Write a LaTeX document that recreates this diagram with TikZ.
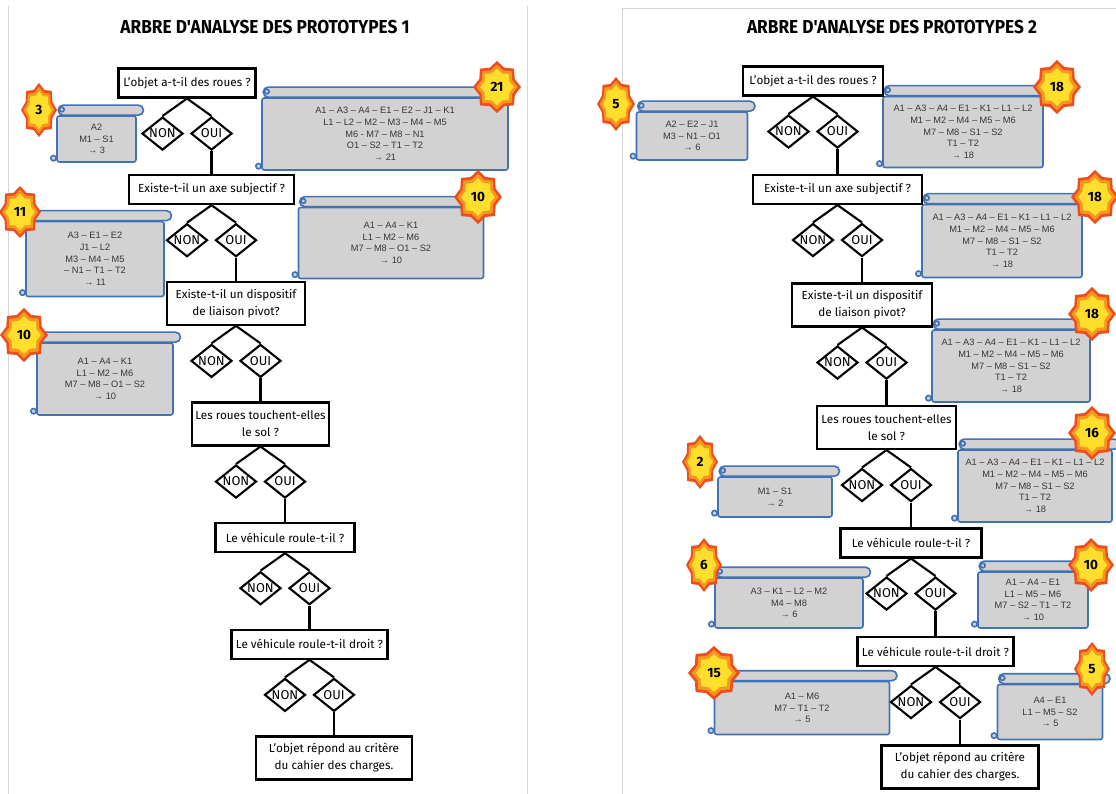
\documentclass[tikz,border=0pt]{standalone}
\usepackage{fontspec}
\usepackage{xcolor}
\usepackage{tikz}
\usetikzlibrary{shapes.geometric, positioning}
\setmainfont{Fira Sans}
\newfontfamily\scrollfont{Liberation Sans}
\newfontfamily\titlefont[FakeStretch=0.92]{Fira Sans}

\definecolor{scrollgray}{RGB}{210,210,210}
\definecolor{scrollblue}{RGB}{66,114,182}
\definecolor{scrolltext}{RGB}{55,55,55}
\definecolor{badgered}{RGB}{236,78,32}
\definecolor{badgeorange}{RGB}{249,150,32}
\definecolor{badgeyellow}{RGB}{255,222,44}
\definecolor{pageline}{RGB}{214,214,214}

\tikzset{
  title/.style={font=\titlefont\bfseries\fontsize{16}{18}\selectfont},
  qbox/.style={rectangle, draw=black, line width=1.8pt, fill=white, align=center, minimum height=0.87cm, inner sep=2pt, font=\fontsize{10}{14.5}\selectfont},
  qbox2/.style={qbox, minimum height=1.29cm},
  yn/.style={diamond, aspect=1.25, draw=black, line width=1.8pt, fill=white, inner sep=0pt, minimum width=1.23cm, minimum height=0.99cm, font=\fontsize{11}{12}\selectfont},
  scroll/.style={rectangle, draw=scrollblue, line width=1.4pt, fill=scrollgray, rounded corners=2pt, align=center, text=scrolltext, font=\scrollfont\fontsize{7.9}{10}\selectfont},
  scrollline/.style={draw=scrollblue, line width=1.4pt, fill=scrollgray},
  badgetxt/.style={font=\bfseries\fontsize{11.5}{12}\selectfont, inner sep=0pt},
  link/.style={line width=1.8pt},
  pageline/.style={draw=pageline, line width=0.6pt}
}

% roll on top and curl at the bottom of a scroll node
\newcommand{\scrolltop}[1]{%
  \draw[scrollline, rounded corners=0.15cm] ([xshift=0.06cm]#1.north west) rectangle ([xshift=0.2cm,yshift=0.3cm]#1.north east);
  \draw[scrollline] ([xshift=0.17cm,yshift=0.17cm]#1.north west) circle (0.07cm);
  \draw[scrollline] ([xshift=-0.08cm,yshift=0.14cm]#1.south west) circle (0.08cm);
}

% 8 point star: colour, x, y, rx, ry, scale
\newcommand{\starfill}[6]{%
  \fill[#1] plot[samples at={0,22.5,...,337.5}] ({#2+#6*#4*(1-0.2*mod(round(\x/22.5),2))*cos(\x)},{#3+#6*#5*(1-0.2*mod(round(\x/22.5),2))*sin(\x)}) -- cycle;
}
\newcommand{\badge}[6]{%
  \starfill{badgered}{#2}{#3}{#4}{#5}{1}
  \starfill{badgeorange}{#2}{#3}{#4}{#5}{0.86}
  \starfill{badgeyellow}{#2}{#3}{#4}{#5}{0.7}
  \node (#1) [badgetxt] at (#2,#3) {#6};
}

\begin{document}
\begin{tikzpicture}[x=0.03cm, y=-0.03cm]
\useasboundingbox (0,0) rectangle (1116,794);

\draw[pageline] (8,6) -- (8,794);
\draw[pageline] (527,6) -- (527,794);
\draw[pageline] (622,794) -- (622,8) -- (1116,8);

%% prototypes 1
\node (ta) [title] at (265,27) {ARBRE D'ANALYSE DES PROTOTYPES 1};

\node (sa1) [scroll, minimum width=2.37cm, minimum height=1.38cm] at (96.5,139) {A2\\M1 – S1\\→ 3};
\node (sa2) [scroll, minimum width=7.38cm, minimum height=2.16cm] at (385,134) {A1 – A3 – A4 – E1 – E2 – J1 – K1\\L1 – L2 – M2 – M3 – M4 – M5\\M6 - M7 – M8 – N1\\O1 – S2 – T1 – T2\\→ 21};
\node (sa3) [scroll, minimum width=4.14cm, minimum height=2.25cm] at (95,259) {A3 – E1 – E2\\J1 – L2\\M3 – M4 – M5\\– N1 – T1 – T2\\→ 11};
\node (sa4) [scroll, minimum width=5.55cm, minimum height=2.13cm] at (391,243) {A1 – A4 – K1\\L1 – M2 – M6\\M7 – M8 – O1 – S2\\→ 10};
\node (sa5) [scroll, minimum width=4.08cm, minimum height=2.16cm] at (105,379) {A1 – A4 – K1\\L1 – M2 – M6\\M7 – M8 – O1 – S2\\→ 10};
\scrolltop{sa1}
\scrolltop{sa2}
\scrolltop{sa3}
\scrolltop{sa4}
\scrolltop{sa5}

\badge{ba1}{39}{110}{18}{27}{3}
\badge{ba2}{497}{87}{24}{26}{21}
\badge{ba3}{20}{212}{21}{26}{11}
\badge{ba4}{478}{197}{24}{27}{10}
\badge{ba5}{24}{335}{24}{27}{10}

\node (qa1) [qbox, minimum width=4.11cm] at (187,83) {L'objet a-t-il des roues ?};
\node (na1) [yn] at ([shift={(-24.5,35)}]qa1.south) {NON};
\node (oa1) [yn] at ([shift={(24.5,35)}]qa1.south) {OUI};

\node (qa2) [qbox, minimum width=4.95cm, below=0.69cm of oa1] {Existe-t-il un axe subjectif ?};
\node (na2) [yn] at ([shift={(-24.5,35)}]qa2.south) {NON};
\node (oa2) [yn] at ([shift={(24.5,35)}]qa2.south) {OUI};

\node (qa3) [qbox2, minimum width=4.14cm, below=0.69cm of oa2] {Existe-t-il un dispositif\\de liaison pivot?};
\node (na3) [yn] at ([shift={(-24.5,35)}]qa3.south) {NON};
\node (oa3) [yn] at ([shift={(24.5,35)}]qa3.south) {OUI};

\node (qa4) [qbox2, minimum width=4.11cm, below=0.69cm of oa3] {Les roues touchent-elles\\le sol ?};
\node (na4) [yn] at ([shift={(-24.5,35)}]qa4.south) {NON};
\node (oa4) [yn] at ([shift={(24.5,35)}]qa4.south) {OUI};

\node (qa5) [qbox, minimum width=4.17cm, below=0.69cm of oa4] {Le véhicule roule-t-il ?};
\node (na5) [yn] at ([shift={(-24.5,35)}]qa5.south) {NON};
\node (oa5) [yn] at ([shift={(24.5,35)}]qa5.south) {OUI};

\node (qa6) [qbox, minimum width=4.68cm, below=0.69cm of oa5] {Le véhicule roule-t-il droit ?};
\node (na6) [yn] at ([shift={(-24.5,35)}]qa6.south) {NON};
\node (oa6) [yn] at ([shift={(24.5,35)}]qa6.south) {OUI};

\node (qa7) [qbox2, minimum width=4.68cm, below=0.69cm of oa6] {L'objet répond au critère\\du cahier des charges.};

\draw [link] (qa1.south) -- (na1.north);
\draw [link] (qa1.south) -- (oa1.north);
\draw [link] (oa1.south) -- (qa2.north);
\draw [link] (qa2.south) -- (na2.north);
\draw [link] (qa2.south) -- (oa2.north);
\draw [link] (oa2.south) -- (qa3.north);
\draw [link] (qa3.south) -- (na3.north);
\draw [link] (qa3.south) -- (oa3.north);
\draw [link] (oa3.south) -- (qa4.north);
\draw [link] (qa4.south) -- (na4.north);
\draw [link] (qa4.south) -- (oa4.north);
\draw [link] (oa4.south) -- (qa5.north);
\draw [link] (qa5.south) -- (na5.north);
\draw [link] (qa5.south) -- (oa5.north);
\draw [link] (oa5.south) -- (qa6.north);
\draw [link] (qa6.south) -- (na6.north);
\draw [link] (qa6.south) -- (oa6.north);
\draw [link] (oa6.south) -- (qa7.north);

%% prototypes 2
\node (tb) [title] at (892,27) {ARBRE D'ANALYSE DES PROTOTYPES 2};

\node (sb1) [scroll, minimum width=3.33cm, minimum height=1.44cm] at (692,136) {A2 – E2 – J1\\M3 – N1 – O1\\→ 6};
\node (sb2) [scroll, minimum width=4.8cm, minimum height=2.13cm] at (963,132) {A1 – A3 – A4 – E1 – K1 – L1 – L2\\M1 – M2 – M4 – M5 – M6\\M7 – M8 – S1 – S2\\T1 – T2\\→ 18};
\node (sb3) [scroll, minimum width=4.8cm, minimum height=2.19cm] at (1002,241) {A1 – A3 – A4 – E1 – K1 – L1 – L2\\M1 – M2 – M4 – M5 – M6\\M7 – M8 – S1 – S2\\T1 – T2\\→ 18};
\node (sb4) [scroll, minimum width=4.74cm, minimum height=2.16cm] at (1011,366) {A1 – A3 – A4 – E1 – K1 – L1 – L2\\M1 – M2 – M4 – M5 – M6\\M7 – M8 – S1 – S2\\T1 – T2\\→ 18};
\node (sb5) [scroll, minimum width=4.62cm, minimum height=2.16cm] at (1035,486) {A1 – A3 – A4 – E1 – K1 – L1 – L2\\M1 – M2 – M4 – M5 – M6\\M7 – M8 – S1 – S2\\T1 – T2\\→ 18};
\node (sb6) [scroll, minimum width=3.42cm, minimum height=1.2cm] at (775,497) {M1 – S1\\→ 2};
\node (sb7) [scroll, minimum width=4.44cm, minimum height=1.5cm] at (789,603) {A3 – K1 – L2 – M2\\M4 – M8\\→ 6};
\node (sb8) [scroll, minimum width=3.3cm, minimum height=1.68cm] at (1033,600) {A1 – A4 – E1\\L1 – M5 – M6\\M7 – S2 – T1 – T2\\→ 10};
\node (sb9) [scroll, minimum width=5.25cm, minimum height=1.59cm] at (802,708) {A1 – M6\\M7 – T1 – T2\\→ 5};
\node (sb10) [scroll, minimum width=3.15cm, minimum height=1.65cm] at (1050,712) {A4 – E1\\L1 – M5 – S2\\→ 5};
\scrolltop{sb1}
\scrolltop{sb2}
\scrolltop{sb3}
\scrolltop{sb4}
\scrolltop{sb5}
\scrolltop{sb6}
\scrolltop{sb7}
\scrolltop{sb8}
\scrolltop{sb9}
\scrolltop{sb10}

\badge{bb1}{616}{104}{19}{27}{5}
\badge{bb2}{1057}{87}{24}{27}{18}
\badge{bb3}{1095}{197}{24}{27}{18}
\badge{bb4}{1092}{314}{24}{27}{18}
\badge{bb5}{1092}{433}{24}{27}{16}
\badge{bb6}{700}{462}{18}{27}{2}
\badge{bb7}{704}{565}{18}{27}{6}
\badge{bb8}{1091}{565}{23}{27}{10}
\badge{bb9}{714}{673}{26}{27}{15}
\badge{bb10}{1092}{669}{18}{27}{5}

\node (qb1) [qbox, minimum width=4.2cm] at (813,81) {L'objet a-t-il des roues ?};
\node (nb1) [yn] at ([shift={(-24.5,35)}]qb1.south) {NON};
\node (ob1) [yn] at ([shift={(24.5,35)}]qb1.south) {OUI};

\node (qb2) [qbox, minimum width=5.07cm, below=0.745cm of ob1] {Existe-t-il un axe subjectif ?};
\node (nb2) [yn] at ([shift={(-24.5,35)}]qb2.south) {NON};
\node (ob2) [yn] at ([shift={(24.5,35)}]qb2.south) {OUI};

\node (qb3) [qbox2, minimum width=4.2cm, below=0.745cm of ob2] {Existe-t-il un dispositif\\de liaison pivot?};
\node (nb3) [yn] at ([shift={(-24.5,35)}]qb3.south) {NON};
\node (ob3) [yn] at ([shift={(24.5,35)}]qb3.south) {OUI};

\node (qb4) [qbox2, minimum width=4.17cm, below=0.745cm of ob3] {Les roues touchent-elles\\le sol ?};
\node (nb4) [yn] at ([shift={(-24.5,35)}]qb4.south) {NON};
\node (ob4) [yn] at ([shift={(24.5,35)}]qb4.south) {OUI};

\node (qb5) [qbox, minimum width=4.23cm, below=0.745cm of ob4] {Le véhicule roule-t-il ?};
\node (nb5) [yn] at ([shift={(-24.5,35)}]qb5.south) {NON};
\node (ob5) [yn] at ([shift={(24.5,35)}]qb5.south) {OUI};

\node (qb6) [qbox, minimum width=4.68cm, below=0.745cm of ob5] {Le véhicule roule-t-il droit ?};
\node (nb6) [yn] at ([shift={(-24.5,35)}]qb6.south) {NON};
\node (ob6) [yn] at ([shift={(24.5,35)}]qb6.south) {OUI};

\node (qb7) [qbox2, minimum width=4.71cm, below=0.745cm of ob6] {L'objet répond au critère\\du cahier des charges.};

\draw [link] (qb1.south) -- (nb1.north);
\draw [link] (qb1.south) -- (ob1.north);
\draw [link] (ob1.south) -- (qb2.north);
\draw [link] (qb2.south) -- (nb2.north);
\draw [link] (qb2.south) -- (ob2.north);
\draw [link] (ob2.south) -- (qb3.north);
\draw [link] (qb3.south) -- (nb3.north);
\draw [link] (qb3.south) -- (ob3.north);
\draw [link] (ob3.south) -- (qb4.north);
\draw [link] (qb4.south) -- (nb4.north);
\draw [link] (qb4.south) -- (ob4.north);
\draw [link] (ob4.south) -- (qb5.north);
\draw [link] (qb5.south) -- (nb5.north);
\draw [link] (qb5.south) -- (ob5.north);
\draw [link] (ob5.south) -- (qb6.north);
\draw [link] (qb6.south) -- (nb6.north);
\draw [link] (qb6.south) -- (ob6.north);
\draw [link] (ob6.south) -- (qb7.north);

\end{tikzpicture}
\end{document}
